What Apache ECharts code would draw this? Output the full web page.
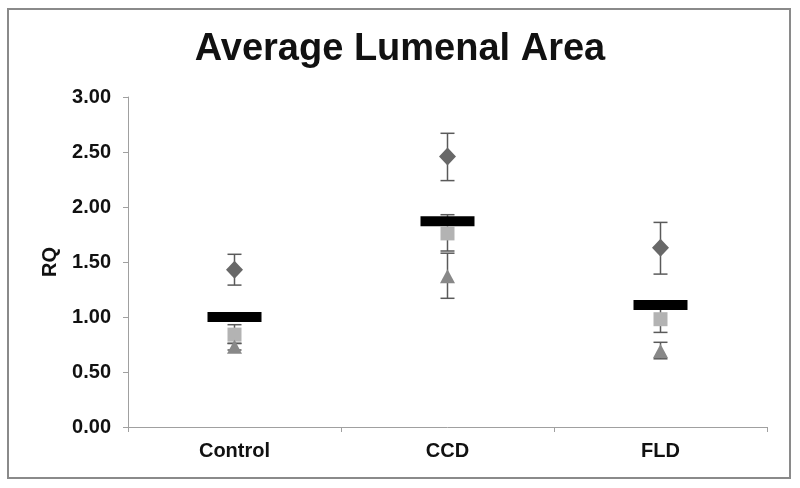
<!DOCTYPE html>
<html>
<head>
<meta charset="utf-8">
<script src="https://cdn.jsdelivr.net/npm/echarts@6/dist/echarts.min.js"></script>
<style>html,body{margin:0;padding:0;background:#fff;}#c{width:800px;height:488px;}</style>
</head>
<body>
<div id="c"></div>
<script>
var categories = ['Control', 'CCD', 'FLD'];
var yTicks = [0, 0.5, 1, 1.5, 2, 2.5, 3];
var meanValues = [1.00, 1.87, 1.11];
var diamondValues = [1.43, 2.46, 1.63];
var diamondLow = [1.29, 2.24, 1.39];
var diamondHigh = [1.57, 2.67, 1.86];
var squareValues = [0.84, 1.76, 0.98];
var squareLow = [0.76, 1.60, 0.86];
var squareHigh = [0.93, 1.93, 1.10];
var triangleValues = [0.73, 1.37, 0.69];
var triangleLow = [0.70, 1.17, 0.62];
var triangleHigh = [0.76, 1.58, 0.77];

function errData(lo, hi) { return categories.map(function (c, i) { return [i, lo[i], hi[i]]; }); }
function ptData(v) { return categories.map(function (c, i) { return [i, v[i]]; }); }

function errRender(params, api) {
  var x = api.value(0);
  var lo = api.coord([x, api.value(1)]);
  var hi = api.coord([x, api.value(2)]);
  var w = 7;
  var st = { stroke: '#5a5a5a', lineWidth: 1.5 };
  return { type: 'group', children: [
    { type: 'line', shape: { x1: lo[0], y1: lo[1], x2: hi[0], y2: hi[1] }, style: st },
    { type: 'line', shape: { x1: hi[0] - w, y1: hi[1], x2: hi[0] + w, y2: hi[1] }, style: st },
    { type: 'line', shape: { x1: lo[0] - w, y1: lo[1], x2: lo[0] + w, y2: lo[1] }, style: st }
  ]};
}

var chart = echarts.init(document.getElementById('c'), null, { renderer: 'canvas' });
var font = 'Arial, "Liberation Sans", sans-serif';
chart.setOption({
  animation: false,
  backgroundColor: '#fff',
  title: {
    text: 'Average Lumenal Area', left: 'center', top: 26,
    textStyle: { fontFamily: font, fontSize: 38, fontWeight: 'bold', color: '#111' }
  },
  graphic: [{
    type: 'rect', shape: { x: 8, y: 9, width: 782, height: 469 },
    style: { fill: 'none', stroke: '#8a8a8a', lineWidth: 2 }, z: -1
  }],
  grid: { left: 128, right: 33, top: 97, bottom: 61 },
  xAxis: {
    type: 'category', data: categories,
    axisLine: { lineStyle: { color: '#a0a0a0', width: 1 } },
    axisTick: { show: true, length: 5, lineStyle: { color: '#a0a0a0' } },
    axisLabel: { fontFamily: font, fontSize: 20, fontWeight: 'bold', color: '#111', margin: 14 }
  },
  yAxis: {
    type: 'value', min: yTicks[0], max: yTicks[yTicks.length - 1], interval: 0.5,
    name: 'RQ', nameLocation: 'middle', nameGap: 68, nameRotate: 90,
    nameTextStyle: { fontFamily: font, fontSize: 20, fontWeight: 'bold', color: '#111' },
    axisLine: { show: true, lineStyle: { color: '#a0a0a0', width: 1 } },
    axisTick: { show: true, length: 5, lineStyle: { color: '#a0a0a0' } },
    splitLine: { show: false },
    axisLabel: { fontFamily: font, fontSize: 20, fontWeight: 'bold', color: '#111', margin: 17,
      formatter: function (v) { return v.toFixed(2); } }
  },
  series: [
    { type: 'custom', renderItem: errRender, data: errData(diamondLow, diamondHigh), z: 1 },
    { type: 'custom', renderItem: errRender, data: errData(squareLow, squareHigh), z: 1 },
    { type: 'custom', renderItem: errRender, data: errData(triangleLow, triangleHigh), z: 1 },
    { type: 'scatter', data: ptData(meanValues), symbol: 'rect', symbolSize: [54, 10],
      itemStyle: { color: '#000', opacity: 1 }, z: 3 },
    { type: 'scatter', data: ptData(diamondValues), symbol: 'diamond', symbolSize: [17, 18],
      itemStyle: { color: '#686868', opacity: 1 }, z: 4 },
    { type: 'scatter', data: ptData(squareValues), symbol: 'rect', symbolSize: [14, 14],
      itemStyle: { color: '#b3b3b3', opacity: 1 }, z: 4 },
    { type: 'scatter', data: ptData(triangleValues), symbol: 'triangle', symbolSize: [15, 14],
      itemStyle: { color: '#888888', opacity: 1 }, z: 4 }
  ]
});
</script>
</body>
</html>
